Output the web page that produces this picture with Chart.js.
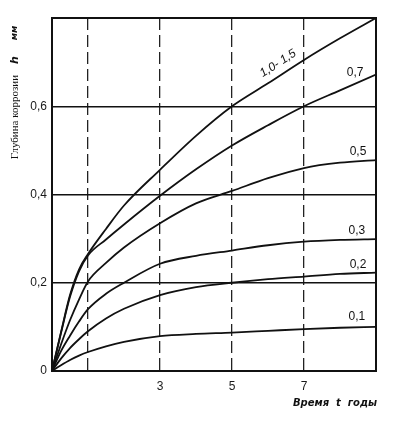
<!DOCTYPE html>
<html>
<head>
<meta charset="utf-8">
<script src="https://cdn.jsdelivr.net/npm/chart.js@4.4.1/dist/chart.umd.min.js"></script>
<style>
html,body{margin:0;padding:0;background:#fff;}
#wrap{width:399px;height:426px;position:relative;}
</style>
</head>
<body>
<div id="wrap"><canvas id="c" width="399" height="426"></canvas></div>
<script>
// ---- data ----
const years   = [0, 0.25, 0.5, 0.75, 1, 1.5, 2, 3, 4, 5, 6, 7, 8, 9];
const h_10_15 = [0, 0.088, 0.172, 0.23, 0.265, 0.322, 0.375, 0.456, 0.533, 0.60, 0.652, 0.705, 0.754, 0.80];
const h_07    = [0, 0.086, 0.168, 0.226, 0.262, 0.298, 0.332, 0.397, 0.457, 0.511, 0.557, 0.60, 0.636, 0.672];
const h_05    = [0, 0.06, 0.115, 0.162, 0.203, 0.245, 0.28, 0.335, 0.38, 0.408, 0.437, 0.46, 0.472, 0.478];
const h_03    = [0, 0.045, 0.08, 0.112, 0.14, 0.175, 0.20, 0.243, 0.261, 0.273, 0.285, 0.293, 0.297, 0.299];
const h_02    = [0, 0.028, 0.052, 0.072, 0.09, 0.119, 0.141, 0.172, 0.19, 0.20, 0.208, 0.214, 0.22, 0.223];
const h_01    = [0, 0.013, 0.025, 0.035, 0.043, 0.056, 0.066, 0.079, 0.084, 0.087, 0.091, 0.095, 0.098, 0.10];
const seriesNames = ['1,0- 1,5', '0,7', '0,5', '0,3', '0,2', '0,1'];
const xTicks = [0, 1, 3, 5, 7, 9];
const xTickLabels = ['', '', '3', '5', '7', ''];
const yTicks = [0, 0.2, 0.4, 0.6, 0.8];
const yTickLabels = ['0', '0,2', '0,4', '0,6', ''];
const yTitle = 'Глубина коррозии';
const xTitle = 'Время  t  годы';

const allSeries = [h_10_15, h_07, h_05, h_03, h_02, h_01];
const datasets = allSeries.map((s, i) => ({
  label: seriesNames[i],
  data: years.map((x, j) => ({x: x, y: s[j]})),
  borderColor: '#111',
  borderWidth: 1.8,
  pointRadius: 0,
  showLine: true,
  fill: false,
  cubicInterpolationMode: 'monotone'
}));

// label anchors in data units (series label placement)
const curveLabelAnchors = [
  {x: 6.28, y: 0.697, rot: -33, italic: true},
  {x: 8.42, y: 0.676},
  {x: 8.5, y: 0.497},
  {x: 8.47, y: 0.317},
  {x: 8.5, y: 0.242},
  {x: 8.47, y: 0.122}
];

const decor = {
  id: 'decor',
  afterDatasetsDraw(chart) {
    const ctx = chart.ctx, a = chart.chartArea;
    const xs = chart.scales.x, ys = chart.scales.y;
    ctx.save();
    // frame
    ctx.strokeStyle = '#111';
    ctx.lineWidth = 2;
    ctx.strokeRect(a.left, a.top, a.right - a.left, a.bottom - a.top);
    // curve labels
    ctx.fillStyle = '#111';
    ctx.textAlign = 'center';
    ctx.textBaseline = 'middle';
    curveLabelAnchors.forEach((p, i) => {
      const px = xs.getPixelForValue(p.x), py = ys.getPixelForValue(p.y);
      ctx.save();
      ctx.translate(px, py);
      if (p.rot) ctx.rotate(p.rot * Math.PI / 180);
      ctx.font = (p.italic ? 'italic ' : '') + '12px "Liberation Sans", Arial, sans-serif';
      ctx.fillText(seriesNames[i], 0, 0);
      ctx.restore();
    });
    // y title
    ctx.save();
    ctx.translate(15, 117);
    ctx.rotate(-Math.PI / 2);
    ctx.font = '11px "Liberation Serif", "Times New Roman", serif';
    ctx.fillText(yTitle, 0, 0);
    ctx.font = 'bold italic 11px "DejaVu Sans", sans-serif';
    ctx.fillText('h', 57, 0);
    ctx.font = 'bold italic 9px "DejaVu Sans", sans-serif';
    ctx.fillText('мм', 84, 0);
    ctx.restore();
    // x title
    ctx.font = 'bold italic 10px "DejaVu Sans", sans-serif';
    ctx.textAlign = 'right';
    ctx.fillText(xTitle, a.right + 1, 403);
    ctx.restore();
  }
};

new Chart(document.getElementById('c'), {
  type: 'scatter',
  data: {datasets},
  options: {
    responsive: false,
    animation: false,
    events: [],
    layout: {padding: {left: 0, top: 18, right: 23, bottom: 0}},
    plugins: {legend: {display: false}, tooltip: {enabled: false}, title: {display: false}},
    scales: {
      x: {
        type: 'linear', min: 0, max: 9,
        afterBuildTicks: s => { s.ticks = xTicks.map(v => ({value: v})); },
        afterFit: s => { s.height = 55; },
        grid: {
          color: c => (c.tick && (c.tick.value === 0 || c.tick.value === 9)) ? 'rgba(0,0,0,0)' : '#222',
          lineWidth: 1.3,
          drawTicks: false
        },
        border: {display: false, dash: [12, 5]},
        ticks: {
          padding: 8,
          color: '#1a1a1a',
          font: {family: '"Liberation Sans", Arial, sans-serif', size: 12},
          callback: (v) => { const k = xTicks.indexOf(v); return k >= 0 ? xTickLabels[k] : ''; },
          maxRotation: 0, autoSkip: false
        }
      },
      y: {
        type: 'linear', min: 0, max: 0.8,
        afterBuildTicks: s => { s.ticks = yTicks.map(v => ({value: v})); },
        afterFit: s => { s.width = 52; },
        grid: {
          color: c => (c.tick && (c.tick.value === 0 || c.tick.value === 0.8)) ? 'rgba(0,0,0,0)' : '#111',
          lineWidth: 1.5,
          drawTicks: false
        },
        border: {display: false},
        ticks: {
          padding: 5,
          color: '#1a1a1a',
          font: {family: '"Liberation Sans", Arial, sans-serif', size: 12},
          callback: (v) => { const k = yTicks.indexOf(v); return k >= 0 ? yTickLabels[k] : ''; },
          autoSkip: false
        }
      }
    }
  },
  plugins: [decor]
});
</script>
</body>
</html>
